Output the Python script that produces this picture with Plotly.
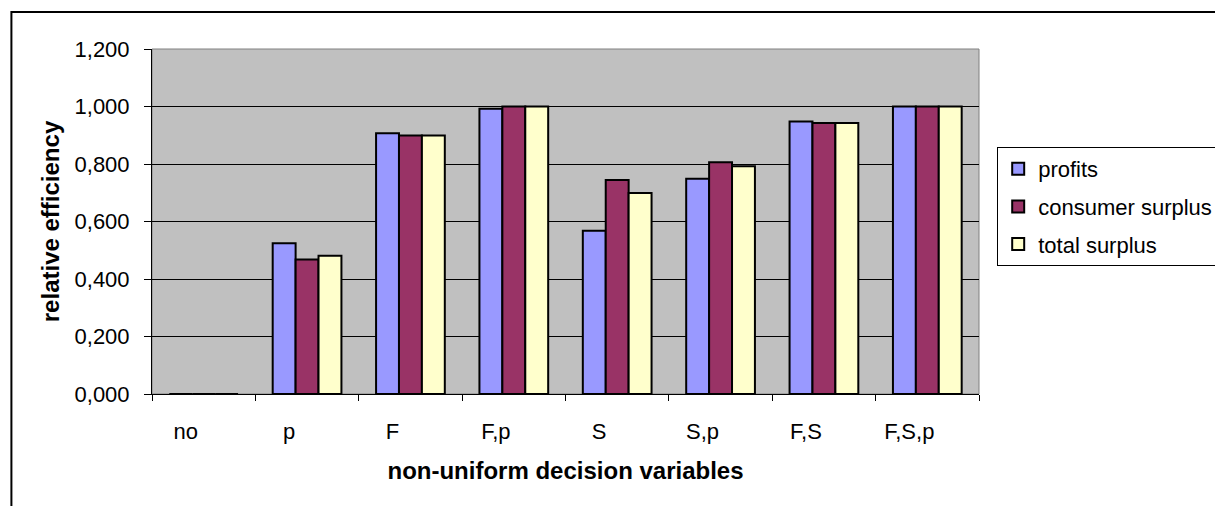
import plotly.graph_objects as go

categories = ["no", "p", "F", "F,p", "S", "S,p", "F,S", "F,S,p"]
profits = [0.0, 0.524, 0.907, 0.992, 0.568, 0.749, 0.948, 1.0]
consumer_surplus = [0.0, 0.468, 0.899, 1.0, 0.744, 0.806, 0.943, 1.0]
total_surplus = [0.0, 0.481, 0.899, 1.0, 0.699, 0.792, 0.943, 1.0]
series_names = ["profits", "consumer surplus", "total surplus"]
series_colors = ["#9999FF", "#993366", "#FFFFCC"]

FONT = "Arial, Liberation Sans, sans-serif"

fig = go.Figure()
for i, (name, vals, col) in enumerate(zip(series_names, [profits, consumer_surplus, total_surplus], series_colors)):
    fig.add_trace(go.Bar(
        x=categories, y=vals, name=name, legendgroup=f"g{i}",
        marker=dict(color=col, line=dict(color="black", width=2)),
    ))

fig.update_layout(
    width=1215, height=506,
    margin=dict(l=152, r=236, t=49, b=112, autoexpand=False),
    paper_bgcolor="white", plot_bgcolor="#C0C0C0",
    barmode="group", bargap=0.335, bargroupgap=0,
    separators=",.",
    font=dict(family=FONT, size=22, color="black"),
    showlegend=True,
    legend=dict(
        x=1.022, y=0.716, xanchor="left", yanchor="top",
        bgcolor="white", bordercolor="black", borderwidth=1,
        font=dict(family=FONT, size=22, color="black"),
        traceorder="grouped", tracegroupgap=6, itemwidth=30,
    ),
    xaxis=dict(
        type="category", tickson="boundaries", ticks="outside", ticklen=6,
        tickcolor="black", showline=True, linecolor="black", linewidth=1,
        showgrid=False, ticklabelstandoff=18, ticklabelshift=-18,
        tickfont=dict(family=FONT, size=22),
        title=dict(text="<b>non-uniform decision variables</b>", standoff=18,
                   font=dict(family=FONT, size=24)),
        range=[-0.5, 7.5],
    ),
    yaxis=dict(
        range=[0, 1.2], dtick=0.2, tickformat=".3f", ticks="outside", ticklen=7,
        tickcolor="black", showline=True, linecolor="black", linewidth=1,
        showgrid=True, gridcolor="black", gridwidth=1, zeroline=False,
        ticklabelstandoff=10,
        tickfont=dict(family=FONT, size=22),
        title=dict(text="<b>relative efficiency</b>", standoff=8,
                   font=dict(family=FONT, size=24)),
    ),
    shapes=[
        dict(type="rect", xref="paper", yref="paper", x0=0, x1=1, y0=0, y1=1,
             line=dict(color="#808080", width=1), layer="below"),
        dict(type="rect", xref="paper", yref="paper", x0=-0.17, x1=1.5, y0=-0.6, y1=1.107,
             line=dict(color="black", width=2), fillcolor="rgba(0,0,0,0)"),
    ],
)

fig.write_html("out.html", config={"displayModeBar": False},
               post_script="document.body.style.margin='0';document.body.style.overflow='hidden';")
